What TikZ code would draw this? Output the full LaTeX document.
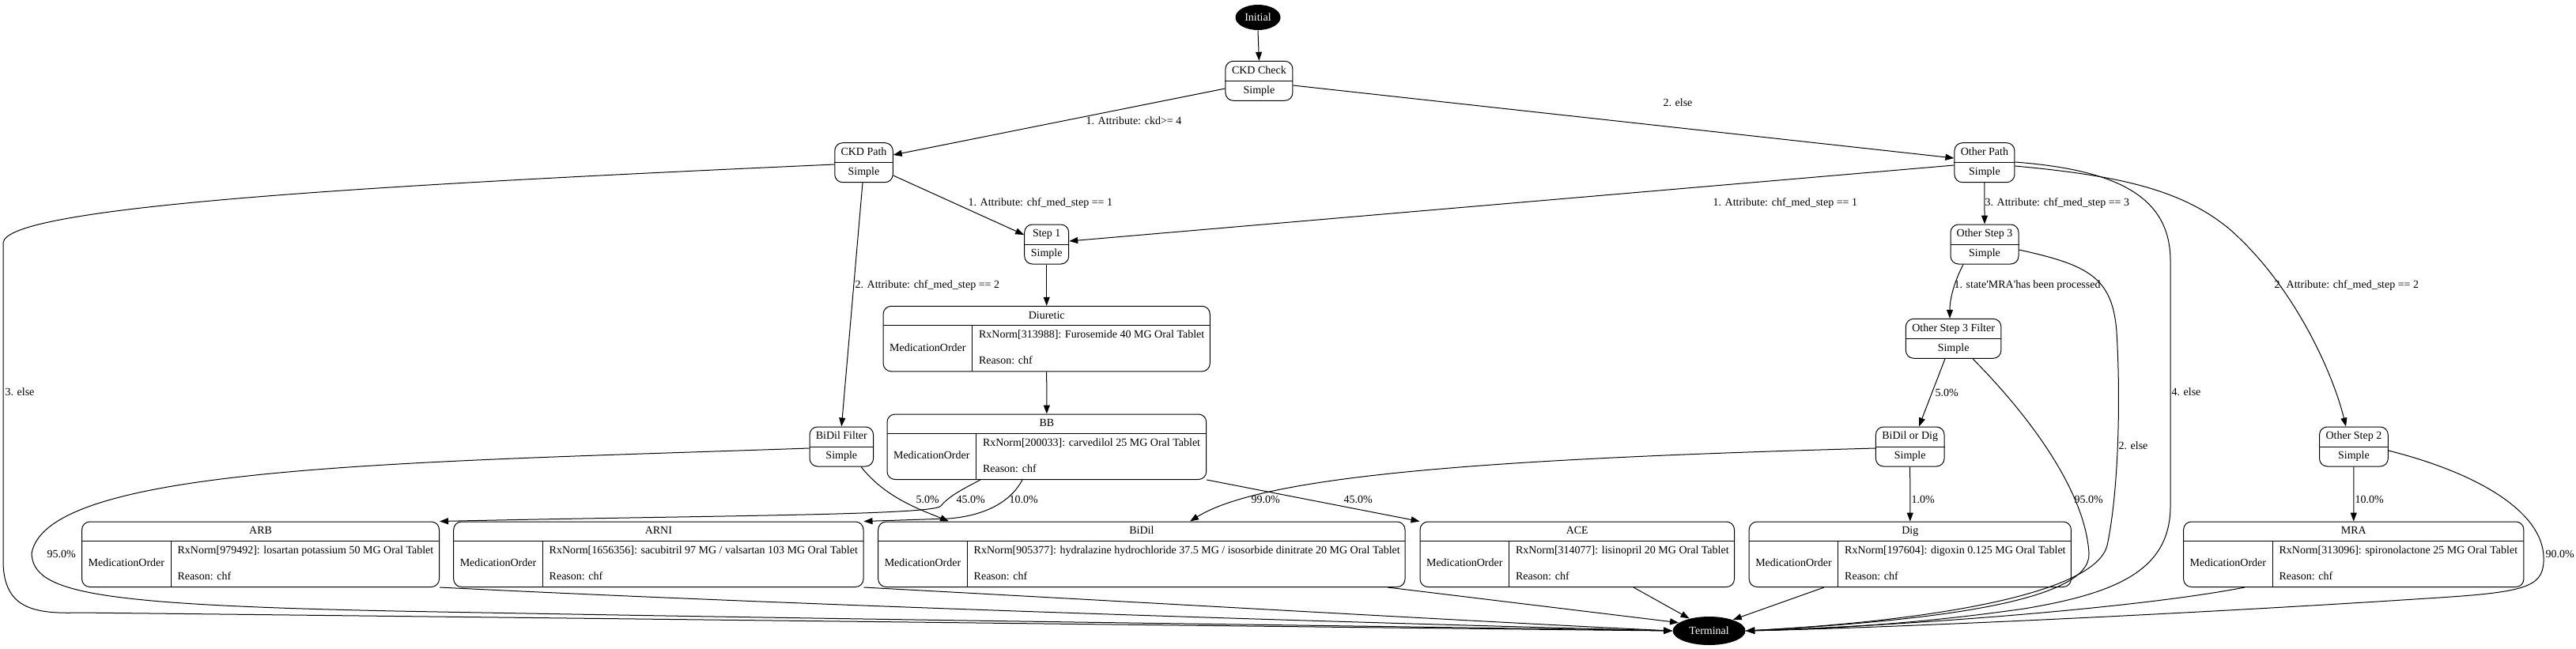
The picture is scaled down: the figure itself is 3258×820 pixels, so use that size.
\documentclass[tikz,border=0pt]{standalone}
\usepackage{fontspec}
\setmainfont{Liberation Serif}
\usetikzlibrary{shapes.geometric,arrows.meta}

% state with a title and "Simple" below
\newcommand{\simplestate}[5]{%
  \node[statebox, minimum width=#4pt] (#1) at (#2,#3) {};
  \draw (#1.west) -- (#1.east);
  \node[txt] (#1t) at (#2,{#3-12.5}) {#5};
  \node[txt] (#1s) at (#2,{#3+12.5}) {Simple};
}
% medication order record
\newcommand{\medrec}[6]{%
  \node[recbox, minimum width={(#3-#2)*1pt}] (#1) at ({(#2+#3)/2},{#4+41.25}) {};
  \draw ({#2},{#4+24.5}) -- ({#3},{#4+24.5});
  \draw ({#2+112.5},{#4+24.5}) -- ({#2+112.5},{#4+82.5});
  \node[txt] (#1t) at ({(#2+#3)/2},{#4+12.5}) {#5};
  \node[txt] (#1k) at ({#2+56.25},{#4+53.5}) {MedicationOrder};
  \node[txt, anchor=west] (#1r) at ({#2+120.5},{#4+37}) {#6};
  \node[txt, anchor=west] (#1c) at ({#2+120.5},{#4+70}) {Reason: chf};
}

\begin{document}
\begin{tikzpicture}[x=1pt, y=-1pt, line width=1pt,
    font=\fontsize{14}{17}\selectfont,
    txt/.style={inner sep=0pt, text height=9.5pt, text depth=3pt},
    elabel/.style={txt, anchor=west},
    statebox/.style={draw, rounded corners=10pt, minimum height=50pt, inner sep=0pt},
    recbox/.style={draw, rounded corners=10pt, minimum height=82.5pt, inner sep=0pt},
    endstate/.style={ellipse, fill=black, text=white, inner sep=0pt},
    trans/.style={-{Triangle[length=11pt,width=8pt]}}]
      %\draw [dotted] (0,0) grid (3258,820);
      \useasboundingbox (0,0) rectangle (3258,820);

      \node [endstate, minimum width=57pt, minimum height=32pt] (init) at (1591,22) {Initial};
      \node [endstate, minimum width=92pt, minimum height=36pt] (terminal) at (2161.6,798) {Terminal};

      \simplestate{ckdcheck}{1592.4}{102.3}{85}{CKD Check}
      \simplestate{ckdpath}{1092.5}{205.7}{73.5}{CKD Path}
      \simplestate{step1}{1323.7}{309}{56}{Step 1}
      \simplestate{bidilfilter}{1064.3}{565}{80.6}{BiDil Filter}
      \simplestate{otherpath}{2509.9}{205.7}{76}{Other Path}
      \simplestate{otherstep3}{2510}{309}{86}{Other Step 3}
      \simplestate{otherstep3filter}{2470.6}{428.3}{120.5}{Other Step 3 Filter}
      \simplestate{bidilordig}{2415.7}{565}{86.7}{BiDil or Dig}
      \simplestate{otherstep2}{2976.9}{565}{86.8}{Other Step 2}

      \medrec{diuretic}{1117.1}{1530.3}{387.3}{Diuretic}{RxNorm[313988]: Furosemide 40 MG Oral Tablet}
      \medrec{bb}{1122}{1525.7}{524}{BB}{RxNorm[200033]: carvedilol 25 MG Oral Tablet}
      \medrec{arb}{103.6}{555.5}{660}{ARB}{RxNorm[979492]: losartan potassium 50 MG Oral Tablet}
      \medrec{arni}{573.7}{1092}{660}{ARNI}{RxNorm[1656356]: sacubitril 97 MG / valsartan 103 MG Oral Tablet}
      \medrec{bidil}{1110.7}{1777}{660}{BiDil}{RxNorm[905377]: hydralazine hydrochloride 37.5 MG / isosorbide dinitrate 20 MG Oral Tablet}
      \medrec{ace}{1796}{2193.5}{660}{ACE}{RxNorm[314077]: lisinopril 20 MG Oral Tablet}
      \medrec{dig}{2212.2}{2619.4}{660}{Dig}{RxNorm[197604]: digoxin 0.125 MG Oral Tablet}
      \medrec{mra}{2761.6}{3191.9}{660}{MRA}{RxNorm[313096]: spironolactone 25 MG Oral Tablet}

      % transitions
      \draw [trans] (init.south) -- (ckdcheck.north);
      \draw [trans] (ckdcheck.west |- 0,112) -- (ckdpath.east |- 0,196);
      \draw [trans] (ckdcheck.east |- 0,108) -- (otherpath.west |- 0,200);
      \draw [trans] (ckdpath.east |- 0,222) -- (step1.west |- 0,297);
      \draw [trans] (ckdpath.south -| 1091,0) -- (bidilfilter.north);
      \draw [trans] (ckdpath.west |- 0,208) .. controls (450,235) and (8,262) .. (4,307) -- (4,713)
                    .. controls (6,768) and (40,777) .. (100,775) .. controls (1000,785) and (1900,796) .. (terminal.west);
      \draw [trans] (step1.south) -- (diuretic.north);
      \draw [trans] (diuretic.south) -- (bb.north);
      \draw [trans] (otherpath.west |- 0,209) -- (step1.east |- 0,305);
      \draw [trans] (otherpath.south) -- (otherstep3.north);
      \draw [trans] (otherpath.east |- 0,205) .. controls (2680,215) and (2745,250) .. (2745,330) -- (2745,640)
                    .. controls (2745,720) and (2680,750) .. (2560,770) .. controls (2420,790) and (2300,796) .. (terminal.east);
      \draw [trans] (otherpath.east |- 0,210) .. controls (2680,222) and (2760,240) .. (2820,290)
                    .. controls (2900,360) and (2950,470) .. (otherstep2.north -| 2967,0);
      \draw [trans] (otherstep3.south -| 2483,0) .. controls (2470,360) and (2466,380) .. (otherstep3filter.north -| 2466,0);
      \draw [trans] (otherstep3.east |- 0,316) .. controls (2640,335) and (2672,350) .. (2677,420)
                    .. controls (2682,500) and (2680,620) .. (2665,690) .. controls (2650,750) and (2450,785) .. (terminal.east);
      \draw [trans] (otherstep3filter.south -| 2460,0) -- (bidilordig.north -| 2427,0);
      \draw [trans] (otherstep3filter.south -| 2495,0) .. controls (2580,540) and (2638,630) .. (2642,700)
                    .. controls (2645,760) and (2450,785) .. (terminal.east);
      \draw [trans] (bidilordig.south) -- (dig.north);
      \draw [trans] (bidilordig.west |- 0,567) .. controls (1900,580) and (1600,600) .. (bidil.north -| 1505,0);
      \draw [trans] (otherstep2.south) -- (mra.north);
      \draw [trans] (otherstep2.east |- 0,570) .. controls (3140,600) and (3216,650) .. (3217,705)
                    .. controls (3218,740) and (3200,748) .. (3100,755) .. controls (2800,775) and (2400,794) .. (terminal.east);
      \draw [trans] (bidilfilter.south -| 1089,0) .. controls (1120,630) and (1165,645) .. (bidil.north -| 1200,0);
      \draw [trans] (bidilfilter.west |- 0,567) .. controls (500,585) and (60,590) .. (40,700)
                    .. controls (42,750) and (120,765) .. (500,773) .. controls (1200,786) and (1900,794) .. (terminal.west);
      \draw [trans] (bb.south -| 1240,0) .. controls (1215,620) and (1200,628) .. (1190,640)
                    .. controls (1180,652) and (900,652) .. (arb.north east);
      \draw [trans] (bb.south -| 1293,0) .. controls (1280,632) and (1250,652) .. (1200,656) -- (arni.north east);
      \draw [trans] (bb.south east) -- (ace.north west);
      \draw [trans] (arb.south east) .. controls (1100,770) and (1800,790) .. (terminal.west);
      \draw [trans] (arni.south east) .. controls (1500,765) and (1900,788) .. (terminal.west);
      \draw [trans] (bidil.south -| 1755,0) -- (terminal.165);
      \draw [trans] (ace.south -| 2066,0) -- (terminal.148);
      \draw [trans] (dig.south -| 2307,0) -- (terminal.25);
      \draw [trans] (mra.south -| 2839,0) .. controls (2700,770) and (2400,792) .. (terminal.east);

      % transition labels
      \node [elabel] (lckd)      at (1373,154) {1. Attribute: ckd>= 4};
      \node [elabel] (lelsetwo)  at (2103,131) {2. else};
      \node [elabel] (lstepone)  at (1224,257) {1. Attribute: chf\_med\_step == 1};
      \node [elabel] (lsteptwo)  at (1081,361) {2. Attribute: chf\_med\_step == 2};
      \node [elabel] (lckdelse)  at (6,497)    {3. else};
      \node [elabel] (lotherone) at (2166,257) {1. Attribute: chf\_med\_step == 1};
      \node [elabel] (lotherthr) at (2510,257) {3. Attribute: chf\_med\_step == 3};
      \node [elabel] (lotherels) at (2746,497) {4. else};
      \node [elabel] (lothertwo) at (2876,361) {2. Attribute: chf\_med\_step == 2};
      \node [elabel] (lmradone)  at (2471,361) {1. state\textquotesingle MRA\textquotesingle has been processed};
      \node [elabel] (lthrelse)  at (2679,565) {2. else};
      \node [elabel] (lfiltfive) at (2447,498) {5.0\%};
      \node [elabel] (lfiltnine) at (2623,633) {95.0\%};
      \node [elabel] (ldigone)   at (2417,633) {1.0\%};
      \node [elabel] (lbidilnn)  at (1582,633) {99.0\%};
      \node [elabel] (larbff)    at (1209,633) {45.0\%};
      \node [elabel] (larniten)  at (1276,633) {10.0\%};
      \node [elabel] (lbidilf)   at (1158,633) {5.0\%};
      \node [elabel] (laceff)    at (1699,633) {45.0\%};
      \node [elabel] (lbfnine)   at (59,702)   {95.0\%};
      \node [elabel] (lmraten)   at (2978,633) {10.0\%};
      \node [elabel] (lstepnine) at (3219,702) {90.0\%};
\end{tikzpicture}
\end{document}
